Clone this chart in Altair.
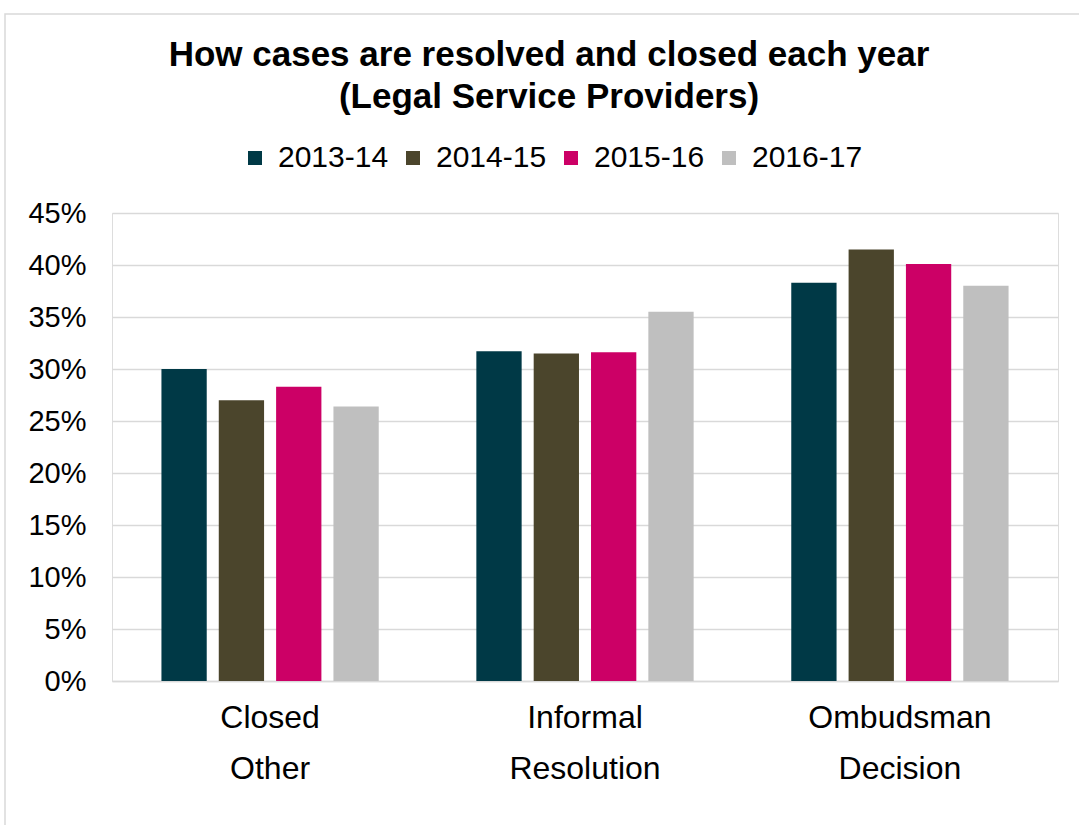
import altair as alt
import pandas as pd

categories = ["Closed Other", "Informal Resolution", "Ombudsman Decision"]
years = ["2013-14", "2014-15", "2015-16", "2016-17"]
v_2013_14 = [30.0, 31.7, 38.3]
v_2014_15 = [27.0, 31.5, 41.5]
v_2015_16 = [28.3, 31.6, 40.1]
v_2016_17 = [26.4, 35.5, 38.0]
colors = ["#003946", "#4B452C", "#CC0066", "#BFBFBF"]
y_ticks = [0, 0.05, 0.10, 0.15, 0.20, 0.25, 0.30, 0.35, 0.40, 0.45]

series = [v_2013_14, v_2014_15, v_2015_16, v_2016_17]
rows = []
for yr, vals in zip(years, series):
    for cat, v in zip(categories, vals):
        rows.append({"category": cat, "year": yr, "value": v / 100})
df = pd.DataFrame(rows)

FONT = "Liberation Sans"

bars = alt.Chart(df).mark_bar().encode(
    x=alt.X("category:N", sort=categories, title=None,
            scale=alt.Scale(paddingInner=0.31, paddingOuter=0.157),
            axis=alt.Axis(labelExpr="split(datum.label, ' ')", labelAngle=0,
                          labelFontSize=32, labelLineHeight=51, labelPadding=21,
                          labelLimit=400,
                          ticks=False, domainColor="#D9D9D9", domainWidth=1.3,
                          labelColor="#000000", labelFont=FONT)),
    xOffset=alt.XOffset("year:N", sort=years,
                        scale=alt.Scale(paddingInner=0.21, paddingOuter=0)),
    y=alt.Y("value:Q", title=None,
            scale=alt.Scale(domain=[0, 0.45], nice=False),
            axis=alt.Axis(values=y_ticks, format=".0%", labelFontSize=29,
                          labelPadding=26, ticks=False, domain=False,
                          gridColor="#D9D9D9", gridWidth=1.3,
                          labelColor="#000000", labelFont=FONT)),
    color=alt.Color("year:N", sort=years,
                    scale=alt.Scale(domain=years, range=colors),
                    legend=alt.Legend(title=None, orient="none", direction="horizontal",
                                      columns=4, legendX=128, legendY=-70,
                                      symbolType="square", symbolSize=196,
                                      symbolStrokeWidth=0, labelFontSize=30,
                                      labelFont=FONT, labelColor="#000000",
                                      columnPadding=9, labelOffset=8)),
)

border = alt.Chart(pd.DataFrame({"a": [0]})).mark_rect(
    fill=None, stroke="#D9D9D9", strokeWidth=1.5
).encode(x=alt.value(-107), x2=alt.value(990), y=alt.value(-199), y2=alt.value(700))

chart = alt.layer(border, bars).properties(
    width=946, height=468,
    padding={"left": 112, "top": 213, "right": 21, "bottom": 144},
    autosize=alt.AutoSizeParams(type="none"),
    title=alt.TitleParams(
        text=["How cases are resolved and closed each year", "(Legal Service Providers)"],
        fontSize=35, font=FONT, fontWeight="bold", color="#000000",
        anchor="middle", dx=-36, offset=0, dy=102, lineHeight=42),
).configure_view(stroke=None).configure(background="white")

chart.save("out.html", embed_options={"renderer": "svg", "actions": False})
